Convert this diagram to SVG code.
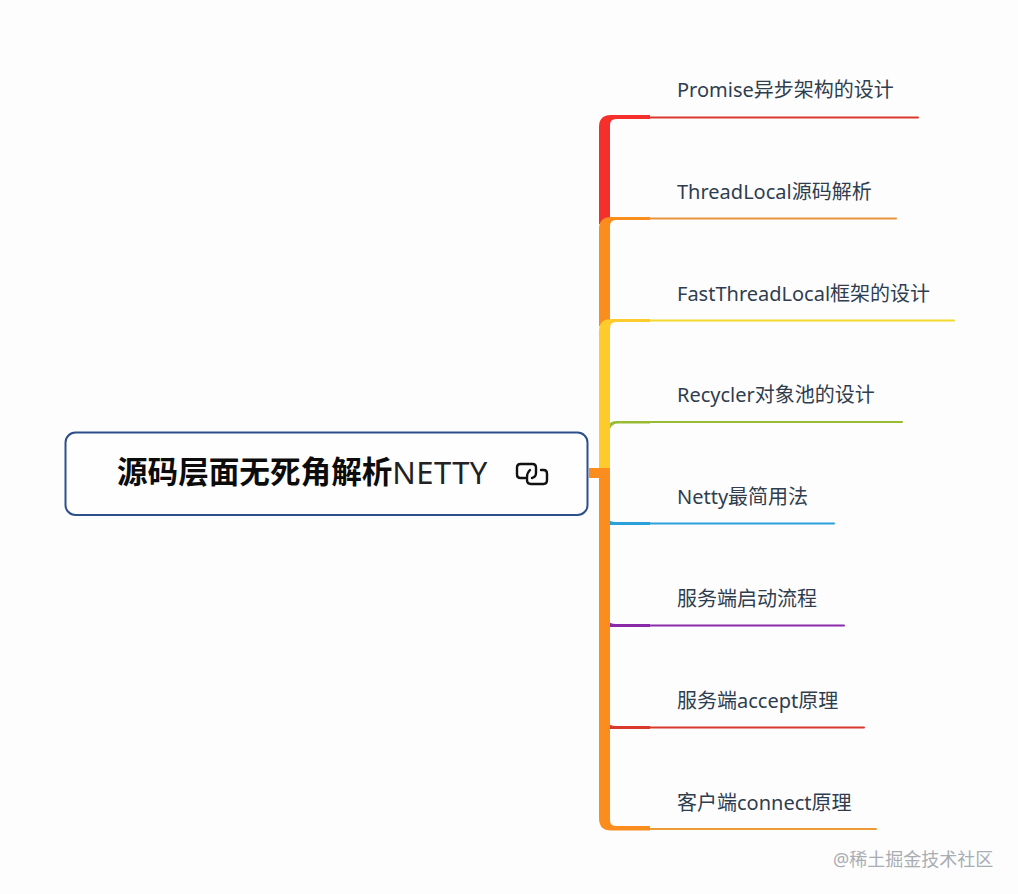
<svg xmlns="http://www.w3.org/2000/svg" width="1018" height="894" viewBox="0 0 1018 894">
<style>
.l{font-family:"Noto Sans","Noto Sans CJK SC",sans-serif;font-size:20px;fill:#2f3d4e}
.thin{fill:none;stroke-width:2;stroke-linecap:round}
</style>
<rect width="1018" height="894" fill="#fdfdfe"/>
<g id="connectors">
<rect x="589" y="468" width="12" height="10" fill="#fb8c1e"/>
<path id="branch-4" fill="#97bb32" d="M608 428Q609 421 616 421H650V423.500H618Q612 423.500 610 429Z"/>
<path class="thin" stroke="#97bb32" d="M650 422H902"/>
<path id="branch-5" fill="#2aa0d8" d="M608 518Q609 522 616 522H650V525H616Q610 525 608 525Z"/>
<path class="thin" stroke="#2aa0d8" d="M650 523.500H834"/>
<path id="branch-6" fill="#8a2aa8" d="M608 620Q609 624 616 624H650V627H608Z"/>
<path class="thin" stroke="#8a2aa8" d="M650 625.500H844"/>
<path id="branch-7" fill="#d9392b" d="M608 722Q609 726 616 726H650V729H608Z"/>
<path class="thin" stroke="#d9392b" d="M650 727.500H864"/>
<path class="thin" stroke="#d9392b" d="M650 117.500H918"/>
<path class="thin" stroke="#e8933a" d="M650 218.500H896"/>
<path class="thin" stroke="#f4d92c" d="M650 320.500H954"/>
<path class="thin" stroke="#ec9a34" d="M650 829H876"/>
<path id="branch-1" fill="#f5302c" d="M599 224V127Q599 115 611 115H650V119H616Q610 119 610 125V224Z"/>
<path id="branch-2" fill="#fb8c1e" d="M599 326V229Q599 217 611 217H650V220H616Q610 220 610 226V326Z"/>
<path id="branch-3" fill="#ffcb2c" d="M599 468V331Q599 319 611 319H650V322H616Q610 322 610 328V468Z"/>
<path id="branch-8" fill="#fb8c1e" d="M599 468H610V820Q610 826 616 826H650V830.500H611Q599 830.500 599 818Z"/>
</g>
<g id="root">
<rect x="65.500" y="432.500" width="522" height="82.500" rx="10" fill="#fefefe" stroke="#2d4f8b" stroke-width="2"/>
<text x="117" y="483" font-family="'Noto Sans CJK SC','Noto Sans',sans-serif" font-size="30.600" fill="#0c0c0c"><tspan font-weight="700">源码层面无死角解析</tspan><tspan font-family="'Noto Sans',sans-serif" font-weight="400" font-size="31" letter-spacing="0.400" dy="1" fill="#222">NETTY</tspan></text>
<g fill="none" stroke="#111" stroke-width="2.400" stroke-linecap="round" stroke-linejoin="round">
<path d="M525 478H520.500Q517 478 517 474.500V467.500Q517 464 520.500 464H532.500Q536 464 536 467.500V473Q536 477 532 478"/>
<path d="M530 470Q527 473 527 477V480Q527 484 531 484H543.500Q547 484 547 480V473.500Q547 470 543.500 470H541"/>
</g>
</g>
<g id="node-1"><text class="l" x="677" y="97">Promise异步架构的设计</text></g>
<g id="node-2"><text class="l" x="677" y="199">ThreadLocal源码解析</text></g>
<g id="node-3"><text class="l" x="677" y="300.500">FastThreadLocal框架的设计</text></g>
<g id="node-4"><text class="l" x="677" y="402">Recycler对象池的设计</text></g>
<g id="node-5"><text class="l" x="677" y="504">Netty最简用法</text></g>
<g id="node-6"><text class="l" x="677" y="606">服务端启动流程</text></g>
<g id="node-7"><text class="l" x="677" y="708">服务端accept原理</text></g>
<g id="node-8"><text class="l" x="677" y="809.500">客户端connect原理</text></g>
<text x="833" y="866" font-family="'Noto Sans','Noto Sans CJK SC',sans-serif" font-size="18" fill="#a9adb2">@稀土掘金技术社区</text>
</svg>
